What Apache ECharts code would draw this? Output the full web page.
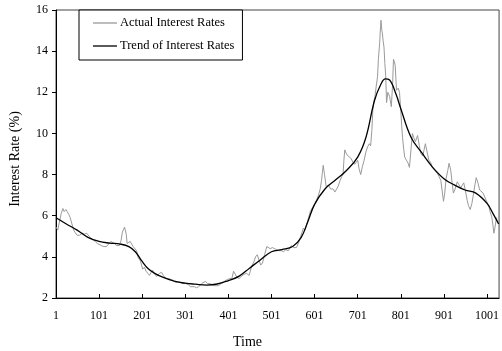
<!DOCTYPE html>
<html>
<head>
<meta charset="utf-8">
<script src="https://cdn.jsdelivr.net/npm/echarts@6/dist/echarts.min.js"></script>
<style>html,body{margin:0;padding:0;background:#fff}#c{width:502px;height:351px}</style>
</head>
<body>
<div id="c"></div>
<script>
var yTicks = [2, 4, 6, 8, 10, 12, 14, 16];
var xTicks = [1, 101, 201, 301, 401, 501, 601, 701, 801, 901, 1001];

var actualT = [1,5,9,13,17,20,24,27,31,34,38,42,45,50,56,62,67,72,78,82,86,92,97,101,106,112,118,124,128,132,137,141,145,148,152,155,158,160,162,164,166,170,173,176,180,184,188,192,197,202,206,210,214,218,222,225,230,235,241,246,250,256,262,268,274,279,285,290,296,302,308,313,317,322,327,332,337,342,348,353,358,363,368,373,378,384,389,394,399,404,409,413,417,421,426,431,437,443,449,455,460,464,468,472,476,480,485,490,494,498,503,508,513,518,524,529,534,540,547,553,559,564,568,572,575,579,583,587,591,596,602,606,610,614,617,619,621,624,628,633,638,644,648,651,655,660,664,667,669,671,675,679,685,690,694,698,701,704,708,712,716,720,724,728,731,734,736,739,741,744,747,749,752,754,755,757,758,760,762,764,766,768,771,775,779,782,784,786,788,791,795,798,801,803,805,808,810,814,818,821,825,828,831,835,838,840,844,847,852,855,858,862,866,870,874,880,886,890,894,897,900,903,906,910,913,917,920,923,927,932,936,940,944,947,951,955,958,962,966,970,973,976,980,984,988,992,996,1000,1005,1008,1012,1015,1017,1020,1023,1025,1028];
var actualV = [5.45,5.3,5.7,6.1,6.35,6.2,6.3,6.2,6.05,5.9,5.6,5.3,5.2,5.05,5.05,5.15,5.1,5.15,5.0,4.9,4.85,4.75,4.65,4.6,4.55,4.5,4.5,4.65,4.75,4.75,4.65,4.55,4.6,4.55,4.8,5.2,5.35,5.45,5.4,5.1,4.65,4.6,4.75,4.75,4.5,4.45,4.3,3.95,3.8,3.4,3.5,3.3,3.2,3.1,3.25,3.35,3.15,3.05,3.2,3.25,3.1,2.95,2.95,2.9,2.85,2.75,2.8,2.75,2.7,2.7,2.65,2.55,2.5,2.55,2.5,2.55,2.65,2.75,2.8,2.7,2.7,2.65,2.6,2.6,2.6,2.7,2.75,2.85,2.9,2.95,2.95,3.3,3.35,3.0,2.95,3.05,3.15,3.2,3.1,3.55,3.75,4.0,4.1,4.15,3.6,3.7,4.1,4.5,4.55,4.4,4.45,4.4,4.35,4.3,4.3,4.25,4.35,4.3,4.55,4.45,4.45,4.7,4.95,5.2,5.4,5.3,5.35,5.9,6.2,6.4,6.6,6.8,7.0,7.3,7.7,8.1,8.45,8.0,7.4,7.5,7.3,7.3,7.15,7.15,7.4,7.7,7.9,8.0,8.7,9.2,9.0,8.9,8.8,8.6,8.5,8.6,8.7,8.3,8.0,8.4,8.7,9.1,9.35,9.5,9.4,10.2,11.1,11.6,11.8,12.3,12.75,13.6,14.4,15.2,15.5,15.0,14.9,14.5,14.2,13.4,12.8,11.5,12.0,11.8,11.3,12.4,13.6,13.5,13.3,12.1,12.2,12.0,11.1,10.4,9.8,9.2,8.85,8.7,8.55,8.35,9.3,10.0,9.8,9.6,9.8,9.9,9.4,9.05,8.9,9.2,9.5,9.1,8.7,8.6,8.35,8.2,8.05,7.9,7.7,7.2,6.7,7.1,7.8,8.2,8.55,8.2,7.6,7.1,7.3,7.65,7.5,7.35,7.5,7.6,7.2,6.75,6.5,6.3,6.6,7.1,7.5,7.85,7.6,7.25,7.2,7.1,6.9,6.7,6.5,6.2,5.95,5.5,5.15,5.5,5.9,5.7,5.65];

var trendT = [1,25,50,75,101,125,150,170,185,200,215,230,250,275,301,325,350,375,401,425,450,475,501,525,550,570,585,601,625,650,675,701,720,740,755,765,775,790,801,825,850,875,901,925,950,975,1001,1015,1028];
var trendV = [5.9,5.6,5.3,4.95,4.75,4.67,4.62,4.5,4.25,3.8,3.42,3.2,3.0,2.82,2.72,2.67,2.63,2.68,2.85,3.05,3.45,3.85,4.25,4.35,4.5,4.95,5.7,6.55,7.3,7.75,8.2,8.85,9.8,11.6,12.4,12.65,12.6,11.9,11.2,9.8,9.05,8.35,7.8,7.5,7.25,7.1,6.6,6.1,5.6];

function pairs(t, v) { return t.map(function (x, i) { return [x, v[i]]; }); }

var serif = 'Liberation Serif';
var chart = echarts.init(document.getElementById('c'));
chart.setOption({
  animation: false,
  backgroundColor: '#fff',
  textStyle: { fontFamily: serif, color: '#000' },
  grid: { left: 56, right: 0, top: 10, bottom: 53, show: true, borderColor: '#444', borderWidth: 1 },
  legend: {
    orient: 'vertical', left: 79, top: 10,
    padding: [6, 8, 7, 14], itemGap: 9, itemWidth: 24, itemHeight: 1.3,
    backgroundColor: '#fff', borderColor: '#000', borderWidth: 1,
    textStyle: { fontFamily: serif, fontSize: 12.5, color: '#000', lineHeight: 14, height: 14, padding: [0, 0, 0, -2] },
    data: [
      { name: 'Actual Interest Rates', icon: 'rect', itemStyle: { color: '#9a9a9a' } },
      { name: 'Trend of Interest Rates', icon: 'rect', itemStyle: { color: '#000' } }
    ]
  },
  xAxis: {
    type: 'value', min: xTicks[0], max: 1029, interval: 100,
    axisLine: { lineStyle: { color: '#000', width: 1 } },
    axisTick: { inside: true, length: 4, lineStyle: { color: '#000' } },
    axisLabel: { fontFamily: serif, fontSize: 12, color: '#000', margin: 12, showMaxLabel: false,
      formatter: function (v) { return String(v); } },
    splitLine: { show: false }
  },
  yAxis: {
    type: 'value', min: yTicks[0], max: yTicks[yTicks.length - 1], interval: 2,
    axisLine: { show: true, lineStyle: { color: '#000', width: 1 } },
    axisTick: { show: true, inside: false, length: 4, lineStyle: { color: '#000' } },
    axisLabel: { fontFamily: serif, fontSize: 12, color: '#000', margin: 8 },
    splitLine: { show: false }
  },
  graphic: [
    { type: 'text', left: 233, top: 335, style: { text: 'Time', font: '14px "Liberation Serif"', fill: '#000' } },
    { type: 'text', x: 8, y: 159, rotation: Math.PI / 2, style: { text: 'Interest Rate (%)', font: '14px "Liberation Serif"', fill: '#000', align: 'center', verticalAlign: 'top' } }
  ],
  series: [
    { name: 'Actual Interest Rates', type: 'line', data: pairs(actualT, actualV), symbol: 'none',
      lineStyle: { color: '#9a9a9a', width: 1 }, itemStyle: { color: '#9a9a9a' } },
    { name: 'Trend of Interest Rates', type: 'line', data: pairs(trendT, trendV), symbol: 'none', smooth: 0.4,
      lineStyle: { color: '#000', width: 1.3 }, itemStyle: { color: '#000' } }
  ]
});
</script>
</body>
</html>
